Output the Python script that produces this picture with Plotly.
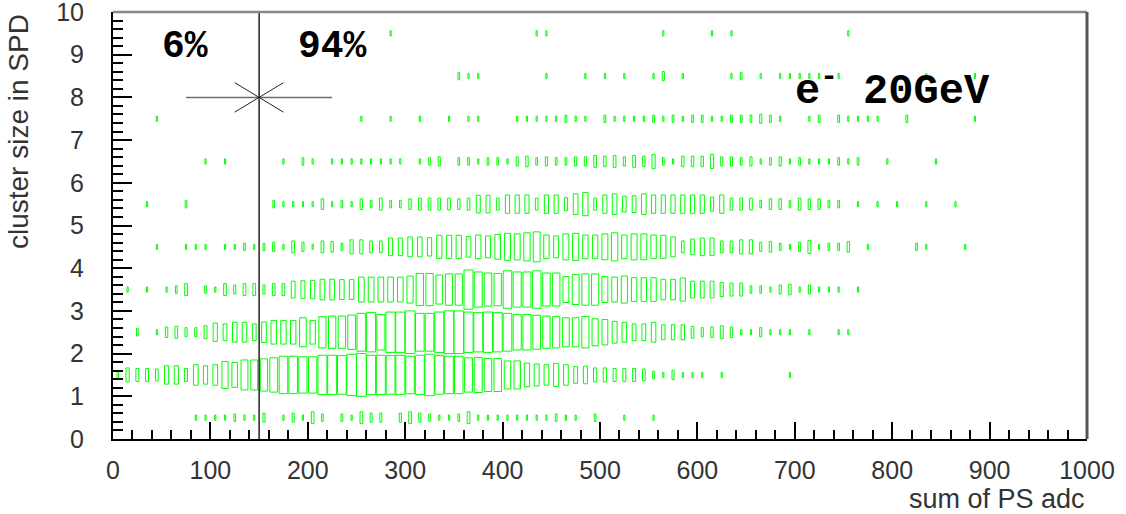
import numpy as np
import plotly.graph_objects as go

# PS adc binning: 100 bins of width 10 from 0 to 1000
ADC_EDGES = np.linspace(0, 1000, 101)
ADC_CENTERS = 0.5 * (ADC_EDGES[:-1] + ADC_EDGES[1:])
BIN_W = 10.0

# entries per adc bin for each SPD cluster size row (y bin centre = row + 0.5)
size0 = [0,0,0,0,0, 0,0,0,1,1, 1,1,2,1,1, 3,0,1,3,1, 5,2,0,2,1,
         5,3,3,0,3, 5,3,2,1,1, 2,5,1,1,1, 1,1,1,1,1, 2,1,1,0,2,
         0,0,1,0,0, 1,0,0,0,0, 0,0,0,0,0, 0,0,0,0,0, 0,0,0,0,0,
         0,0,0,0,0, 0,0,0,0,0, 0,0,0,0,0, 0,0,0,0,0, 0,0,0,0,0]
size1 = [2,7,6,6,5, 12,12,6,15,12, 15,26,22,32,32, 37,42,50,50,47, 47,55,55,53,61,
         65,55,55,53,55, 50,55,61,53,50, 50,42,44,39,39, 28,28,20,17,15, 19,15,10,11,7,
         7,6,6,6,5, 2,1,3,1,1, 1,0,1,0,0, 0,0,0,0,1, 0,0,0,0,0,
         0,0,0,0,0, 0,0,0,0,0, 0,0,0,0,0, 0,0,0,0,0, 0,0,0,0,0]
size2 = [0,0,2,0,1, 4,5,3,3,6, 12,10,14,14,10, 15,20,20,20,30, 20,35,37,37,42,
         51,55,45,58,58, 65,51,51,58,65, 65,58,55,58,55, 51,45,45,41,37, 35,30,30,35,26,
         23,17,14,10,10, 14,8,8,8,5, 3,4,6,4,1, 1,3,1,1,1, 0,1,0,0,1,
         1,0,0,0,0, 0,0,0,0,0, 0,0,0,0,0, 0,0,0,0,0, 0,0,0,0,0]
size3 = [0,1,0,1,0, 1,2,5,0,2, 1,5,3,5,5, 3,5,5,10,11, 12,15,15,14,14,
         22,22,22,22,22, 26,37,37,30,35, 35,55,44,39,37, 50,44,44,50,39, 39,24,32,35,35,
         24,22,26,20,20, 20,15,15,19,10, 10,10,7,6,6, 2,2,1,3,4, 1,3,1,1,1,
         0,1,0,0,0, 0,0,0,0,0, 0,0,0,0,0, 0,0,0,0,0, 0,0,0,0,0]
size4 = [0,0,0,0,1, 0,0,1,1,1, 0,1,1,2,1, 2,3,1,5,3, 1,5,4,2,7,
         7,5,5,11,11, 14,14,12,19,19, 19,15,20,17,22, 26,24,28,32,20, 17,24,26,20,20,
         24,28,20,24,24, 20,19,14,5,9, 11,11,5,5,7, 7,3,4,2,1, 3,6,1,2,2,
         4,0,1,0,0, 0,0,2,1,0, 0,0,1,0,0, 0,0,0,0,0, 0,0,0,0,0]
size5 = [0,0,0,1,0, 0,0,2,0,0, 0,0,0,0,0, 0,2,1,1,1, 1,4,1,2,1,
         4,2,5,2,2, 4,5,5,5,5, 4,5,11,11,5, 12,12,12,5,12, 12,6,15,19,5,
         12,15,9,10,15, 12,12,12,12,12, 12,7,12,5,5, 5,2,4,4,2, 5,4,4,2,2,
         0,1,0,1,0, 1,0,0,1,0, 0,1,0,0,0, 0,0,0,0,0, 0,0,0,0,0]
size6 = [0,0,0,0,0, 0,0,0,0,1, 0,1,0,0,0, 0,0,1,0,2, 1,0,1,1,1,
         1,1,1,1,1, 0,1,2,3,0, 2,2,1,2,2, 1,3,4,2,3, 2,2,3,3,5,
         4,5,3,5,4, 7,2,1,4,4, 4,7,3,3,2, 3,1,2,3,1, 2,1,1,1,2,
         1,2,0,0,1, 0,0,0,0,1, 0,0,0,0,0, 0,0,0,0,0, 0,0,0,0,0]
size7 = [0,0,0,0,1, 0,0,0,0,0, 0,0,0,0,0, 0,0,0,0,0, 0,0,0,0,0,
         1,0,0,1,0, 0,1,0,0,1, 0,1,1,0,0, 0,1,1,1,1, 1,2,1,1,0,
         2,1,1,1,1, 2,1,2,1,2, 2,1,1,2,2, 2,3,2,1,0, 0,1,2,0,2,
         1,1,1,1,0, 0,2,0,0,0, 0,0,0,1,0, 0,0,0,0,0, 0,0,0,0,0]
size8 = [0,0,0,0,0, 0,0,0,0,0, 0,0,0,0,0, 0,0,0,0,0, 0,0,0,0,0,
         0,0,0,0,0, 0,0,0,0,0, 2,1,1,0,0, 0,0,0,0,1, 0,0,0,1,0,
         1,0,1,0,0, 1,3,0,1,0, 0,0,0,1,2, 0,1,0,1,1, 1,1,1,0,1,
         0,0,0,0,0, 0,0,0,1,0, 0,0,0,1,0, 0,0,0,0,0, 0,0,0,0,0]
size9 = [0,0,0,0,0, 0,0,0,0,0, 0,0,0,0,0, 0,0,0,0,0, 0,0,0,0,0,
         0,0,0,1,0, 0,0,0,0,0, 0,0,0,0,0, 0,0,0,1,1, 0,0,0,0,0,
         0,0,0,0,0, 0,1,0,0,0, 0,1,0,1,0, 0,0,0,0,0, 0,0,0,0,0,
         1,0,0,0,0, 0,0,0,0,0, 0,0,0,0,0, 0,0,0,0,0, 0,0,0,0,0]

rows = [size0, size1, size2, size3, size4, size5, size6, size7, size8, size9]
counts = np.array(rows, dtype=float)
assert counts.shape == (10, 100)

# cut on the PS amplitude and fractions on either side of it
CUT_ADC = 150
MARK_Y = 8
MARK_EX = 75
FRAC_LOW = "6%"
FRAC_HIGH = "94%"

# box histogram: box side scales with sqrt(content / max content)
cmax = counts.max()
bx, by = [], []
for iy in range(counts.shape[0]):
    yc = iy + 0.5
    for ix in range(counts.shape[1]):
        c = counts[iy, ix]
        if c <= 0:
            continue
        f = np.sqrt(c / cmax)
        hx = 0.5 * BIN_W * f
        hy = 0.5 * f
        xc = ADC_CENTERS[ix]
        bx += [xc - hx, xc + hx, xc + hx, xc - hx, xc - hx, None]
        by += [yc - hy, yc - hy, yc + hy, yc + hy, yc - hy, None]

fig = go.Figure()
fig.add_trace(go.Scatter(x=bx, y=by, mode="lines",
                         line=dict(color="#00ff00", width=1),
                         hoverinfo="skip", showlegend=False))

# cut line
fig.add_trace(go.Scatter(x=[CUT_ADC, CUT_ADC], y=[0, 10], mode="lines",
                         line=dict(color="black", width=1.3), showlegend=False))
# marker with horizontal error bar at the cut
fig.add_trace(go.Scatter(x=[CUT_ADC - MARK_EX, CUT_ADC + MARK_EX], y=[MARK_Y, MARK_Y],
                         mode="lines", line=dict(color="#6e6e6e", width=1.5),
                         showlegend=False))
mx, my = 25, 0.345
fig.add_trace(go.Scatter(
    x=[CUT_ADC - mx, CUT_ADC + mx, None, CUT_ADC - mx, CUT_ADC + mx],
    y=[MARK_Y - my, MARK_Y + my, None, MARK_Y + my, MARK_Y - my],
    mode="lines", line=dict(color="#222", width=1), showlegend=False))

tick_font = dict(family="Liberation Sans", size=25, color="#333")
fig.update_xaxes(range=[0, 1000], tickmode="linear", tick0=0, dtick=100,
                 ticks="inside", ticklen=17, tickwidth=1.5, tickcolor="black",
                 minor=dict(dtick=20, ticks="inside", ticklen=9, tickwidth=1.5, tickcolor="black"),
                 showline=True, linecolor="black", linewidth=2,
                 showgrid=False, zeroline=False, tickfont=tick_font,
                 ticklabelstandoff=8, ticklabeloverflow="allow")
fig.update_yaxes(range=[0, 10], tickmode="linear", tick0=0, dtick=1,
                 ticks="inside", ticklen=19, tickwidth=1.5, tickcolor="black",
                 minor=dict(dtick=0.2, ticks="inside", ticklen=10, tickwidth=1.5, tickcolor="black"),
                 showline=True, linecolor="black", linewidth=2,
                 showgrid=False, zeroline=False, tickfont=tick_font,
                 ticklabelstandoff=22, ticklabeloverflow="allow")

# top and right frame
fig.add_shape(type="line", xref="paper", yref="paper", x0=0, x1=1, y0=1, y1=1,
              line=dict(color="#888", width=2.5))
fig.add_shape(type="line", xref="paper", yref="paper", x0=1, x1=1, y0=0, y1=1,
              line=dict(color="#555", width=3))

mono = dict(family="Liberation Mono", size=38, color="black", weight="bold")
fig.add_annotation(x=74, y=9.2, text=FRAC_LOW, showarrow=False, font=mono,
                   xanchor="center", yanchor="middle")
fig.add_annotation(x=225, y=9.2, text=FRAC_HIGH, showarrow=False, font=mono,
                   xanchor="center", yanchor="middle")
fig.add_annotation(x=698, y=8.2, text="e<sup>-</sup> 20GeV", showarrow=False,
                   font=dict(family="Liberation Mono", size=42, color="black", weight="bold"),
                   xanchor="left", yanchor="middle")

title_font = dict(family="Liberation Sans", size=27, color="#333")
fig.add_annotation(xref="paper", yref="paper", x=1.0, y=-0.14, text="sum of PS adc",
                   showarrow=False, font=title_font, xanchor="right", yanchor="middle")
fig.add_annotation(xref="paper", yref="paper", x=-0.097, y=1.0, text="cluster size in SPD",
                   textangle=-90, showarrow=False,
                   font=dict(family="Liberation Sans", size=28, color="#333"),
                   xanchor="center", yanchor="top")

fig.update_layout(width=1126, height=514,
                  margin=dict(l=113, r=39, t=12, b=75, autoexpand=False),
                  plot_bgcolor="white", paper_bgcolor="white", showlegend=False)

fig.write_html("out.html")
